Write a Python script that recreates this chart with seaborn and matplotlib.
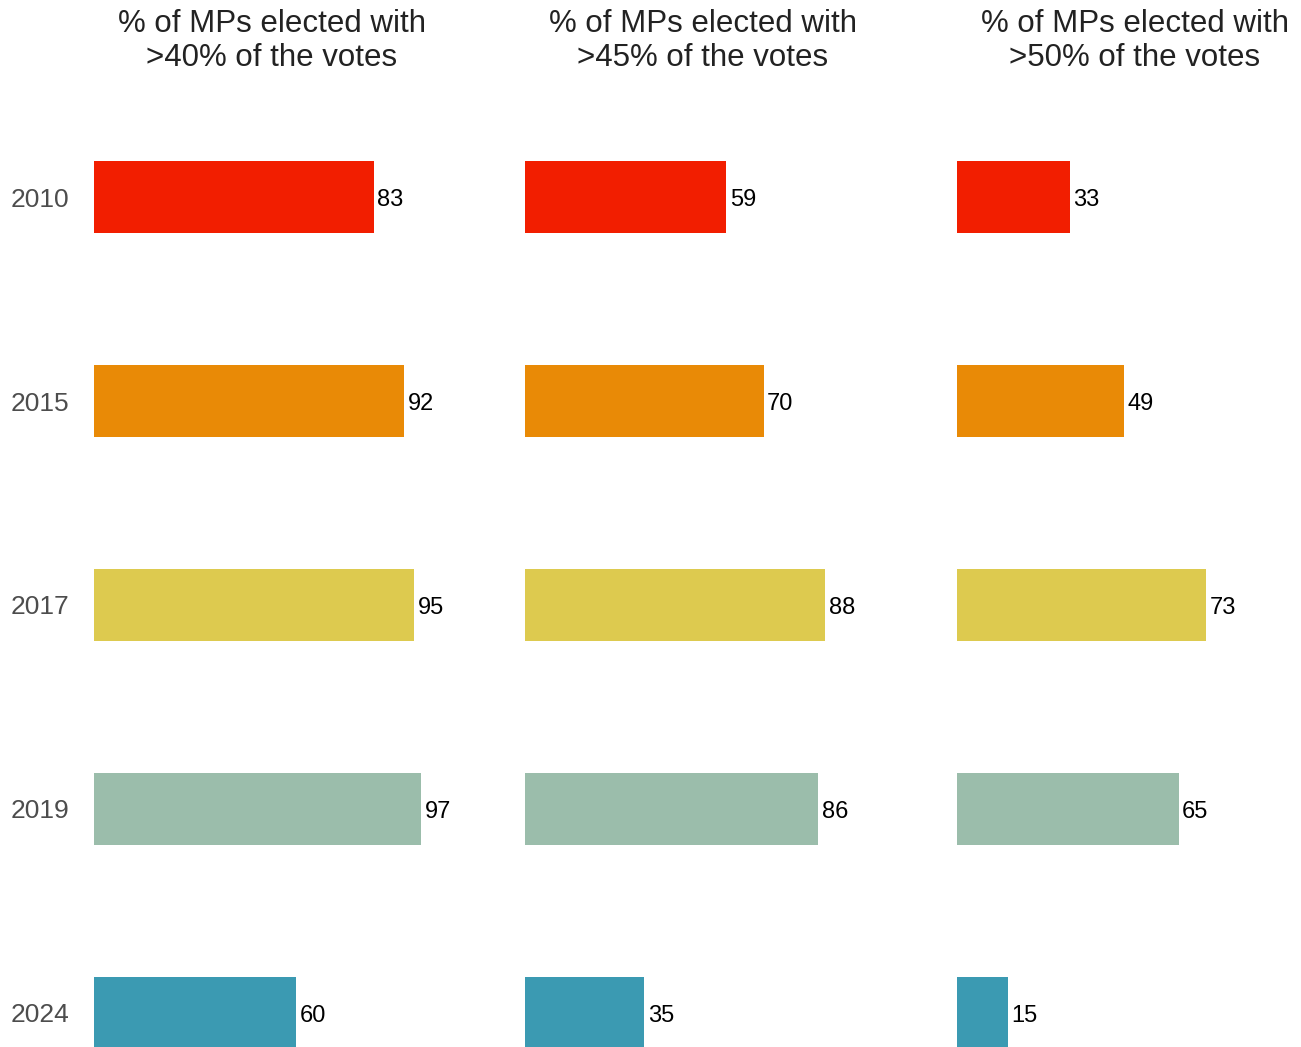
import matplotlib
matplotlib.use("Agg")
import matplotlib.pyplot as plt
import seaborn as sns
import pandas as pd

years = ["2010", "2015", "2017", "2019", "2024"]
pct_40 = [83, 92, 95, 97, 60]
pct_45 = [59, 70, 88, 86, 35]
pct_50 = [33, 49, 73, 65, 15]
titles = ["% of MPs elected with\n>40% of the votes",
          "% of MPs elected with\n>45% of the votes",
          "% of MPs elected with\n>50% of the votes"]
colors = ["#F21E00", "#E98A06", "#DDCA4F", "#9BBDAB", "#3B9AB2"]

sns.set_theme(style="white")
plt.rcParams['font.family'] = ['Liberation Sans', 'DejaVu Sans']

W, H = 1301, 1047
fig = plt.figure(figsize=(W / 100, H / 100), dpi=100)

series = [pct_40, pct_45, pct_50]
lefts = [94, 525, 957]
px_per_unit = [3.372, 3.41, 3.41]
ax_w = 356
top_px, bot_px = 110, 1047
spacing = 204.0
c0 = 197.0

for i, (vals, title) in enumerate(zip(series, titles)):
    ax = fig.add_axes([lefts[i] / W, (H - bot_px) / H, ax_w / W, (bot_px - top_px) / H])
    df = pd.DataFrame({"year": years, "value": vals})
    sns.barplot(data=df, x="value", y="year", hue="year", palette=colors,
                order=years, hue_order=years, width=72 / spacing, ax=ax,
                legend=False, saturation=1, linewidth=0, edgecolor="none")
    ax.set_xlim(0, ax_w / px_per_unit[i])
    ax.set_ylim(4 + (bot_px - (c0 + 4 * spacing)) / spacing, -(c0 - top_px) / spacing)
    for j, v in enumerate(vals):
        ax.text(v + 3.5 / px_per_unit[i], j, str(v), va="center_baseline", ha="left",
                fontsize=17, color="black")
    ax.set_xlabel("")
    ax.set_ylabel("")
    ax.set_xticks([])
    if i == 0:
        ax.tick_params(axis="y", length=0, pad=17.5, labelsize=19, labelcolor="#4D4D4D")
        for lab in ax.get_yticklabels():
            lab.set_verticalalignment("center_baseline")
    else:
        ax.set_yticks([])
    for s in ax.spines.values():
        s.set_visible(False)
    ax.patch.set_alpha(0)
    cx = (lefts[i] + ax_w / 2) / W
    lines = title.split("\n")
    fig.text(cx, 1 - 32 / H, lines[0], ha="center", va="baseline", fontsize=22.5, color="#222222")
    fig.text(cx, 1 - 65.5 / H, lines[1], ha="center", va="baseline", fontsize=22.5, color="#222222")

fig.savefig("out.png", dpi=100)
